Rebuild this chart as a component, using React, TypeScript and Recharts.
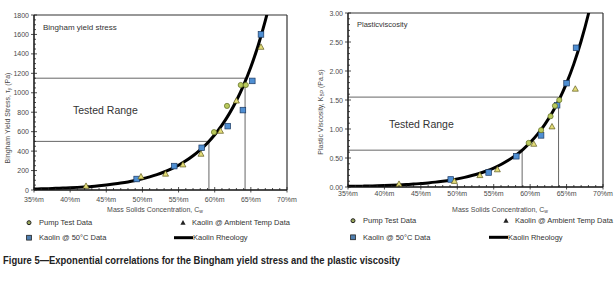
import { ComposedChart, Line, Scatter, XAxis, YAxis, ReferenceLine } from 'recharts'

// fitted curve, read every 1 %m
const curveX = [35, 36, 37, 38, 39, 40, 41, 42, 43, 44, 45, 46, 47, 48, 49, 50, 51, 52, 53, 54, 55, 56, 57, 58, 59, 60, 61, 62, 63, 64, 65, 66, 67, 68, 69]
const yieldCurve = [10, 12, 14, 17, 20, 23, 27, 32, 37, 44, 52, 61, 71, 83, 98, 115, 135, 158, 185, 218, 255, 300, 352, 413, 484, 568, 667, 783, 918, 1078, 1265, 1484, 1742, 2044, 2399]
const viscCurve = [0.011, 0.013, 0.015, 0.018, 0.022, 0.026, 0.030, 0.036, 0.043, 0.050, 0.060, 0.071, 0.084, 0.100, 0.118, 0.140, 0.166, 0.197, 0.233, 0.276, 0.327, 0.388, 0.460, 0.545, 0.646, 0.766, 0.907, 1.076, 1.275, 1.511, 1.791, 2.123, 2.517, 2.983, 3.535]

// yield stress (Pa)
const yieldPump = [[59.9, 595], [61.7, 865], [63.6, 1080], [64.3, 1080]]
const yieldAmbient = [[42.2, 40], [49.8, 137], [53.2, 165], [55.6, 260], [58.1, 370], [60.8, 606], [63.0, 917], [66.4, 1470]]
const yield50C = [[49.2, 113], [54.4, 246], [58.2, 434], [61.8, 657], [63.9, 822], [65.2, 1122], [66.4, 1600]]

// plastic viscosity (Pa.s)
const viscPump = [[59.8, 0.76], [61.5, 0.98], [62.8, 1.22], [63.4, 1.40], [64.0, 1.50]]
const viscAmbient = [[42.0, 0.05], [49.6, 0.10], [53.1, 0.20], [55.5, 0.30], [60.5, 0.74], [63.0, 1.04], [66.2, 1.69]]
const visc50C = [[49.1, 0.13], [54.3, 0.25], [58.1, 0.53], [61.5, 0.89], [63.7, 1.41], [65.0, 1.79], [66.3, 2.40]]

// tested range box corners [concentration, value]
const yieldRange = [[59.2, 500], [64.2, 1150]]
const viscRange = [[58.9, 0.635], [63.9, 1.55]]

const xMajor = [35, 40, 45, 50, 55, 60, 65, 70]

const toPts = (arr: number[][]) => arr.map(([x, y]) => ({ x, y }))
const toCurve = (vals: number[]) => curveX.map((x, i) => ({ x, y: vals[i] }))

const FONT = '"Liberation Sans", Arial, sans-serif'
const GRAY = '#4a4a4a'

const Circle = (p: any) => (
  <circle cx={p.cx} cy={p.cy} r={2.6} fill="#b9c95c" stroke="#5f6b24" strokeWidth={0.7} />
)
const Tri = (p: any) => (
  <path
    d={`M${p.cx},${p.cy - 3.2} L${p.cx + 3},${p.cy + 2.2} L${p.cx - 3},${p.cy + 2.2} Z`}
    fill="#e3dc78"
    stroke="#5f5a1c"
    strokeWidth={0.7}
  />
)
const Sq = (p: any) => (
  <rect x={p.cx - 2.8} y={p.cy - 2.8} width={5.6} height={5.6} fill="#4f8fd3" stroke="#1d3a62" strokeWidth={0.7} />
)

function range(a: number, b: number, step: number) {
  const out: number[] = []
  for (let v = a; v <= b + step / 2; v += step) out.push(Math.round(v * 1000) / 1000)
  return out
}

interface PanelProps {
  pos: { left: number; top: number; width: number; height: number }
  margin: { top: number; right: number; left: number; bottom: number }
  yWidth: number
  yMax: number
  yMajorStep: number
  yMinorStep: number
  yFmt: (v: number) => string
  xLabelDy: number
  curve: { x: number; y: number }[]
  pump: number[][]
  ambient: number[][]
  c50: number[][]
  box: number[][]
}

function Panel(p: PanelProps) {
  const yTicks = range(0, p.yMax, p.yMinorStep)
  const xTicks = range(35, 70, 1)
  const isMajorY = (v: number) => Math.abs(v / p.yMajorStep - Math.round(v / p.yMajorStep)) < 1e-6
  const [lo, hi] = p.box

  const YTick = ({ x, y, payload }: any) => {
    const major = isMajorY(payload.value)
    return (
      <g>
        <line x1={x - (major ? 3 : 0)} x2={x + (major ? 3 : 2)} y1={y} y2={y} stroke="#222" strokeWidth={0.8} />
        {major && (
          <text x={x - 5} y={y} dy={2.5} textAnchor="end" fontSize={7} fill={GRAY} fontFamily={FONT}>
            {p.yFmt(payload.value)}
          </text>
        )}
      </g>
    )
  }
  const XTick = ({ x, y, payload }: any) => {
    const major = xMajor.includes(payload.value)
    return (
      <g>
        <line x1={x} x2={x} y1={y + (major ? 2.5 : 0)} y2={y - (major ? 3 : 2)} stroke="#222" strokeWidth={0.8} />
        {major && (
          <text x={x} y={y} dy={p.xLabelDy} textAnchor="middle" fontSize={7} fill={GRAY} fontFamily={FONT}>
            {`${payload.value}%m`}
          </text>
        )}
      </g>
    )
  }

  return (
    <div style={{ position: 'absolute', ...p.pos }}>
      <ComposedChart width={p.pos.width} height={p.pos.height} margin={p.margin}>
        <XAxis
          type="number"
          dataKey="x"
          domain={[35, 70]}
          ticks={xTicks}
          interval={0}
          tickSize={0}
          tickMargin={0}
          tickLine={false}
          tick={<XTick />}
          height={15}
          axisLine={{ stroke: '#111', strokeWidth: 1.5 }}
          allowDataOverflow
        />
        <YAxis
          type="number"
          dataKey="y"
          domain={[0, p.yMax]}
          ticks={yTicks}
          interval={0}
          tickSize={0}
          tickMargin={0}
          tickLine={false}
          tick={<YTick />}
          width={p.yWidth}
          axisLine={{ stroke: '#111', strokeWidth: 1.5 }}
          allowDataOverflow
        />
        <ReferenceLine x={70} stroke="#333" strokeWidth={1.2} />
        <ReferenceLine y={p.yMax} stroke="#333" strokeWidth={1.2} />
        <ReferenceLine segment={[{ x: 35, y: lo[1] }, { x: lo[0], y: lo[1] }]} stroke="#666" strokeWidth={1} />
        <ReferenceLine segment={[{ x: lo[0], y: 0 }, { x: lo[0], y: lo[1] }]} stroke="#666" strokeWidth={1} />
        <ReferenceLine segment={[{ x: 35, y: hi[1] }, { x: hi[0], y: hi[1] }]} stroke="#666" strokeWidth={1} />
        <ReferenceLine segment={[{ x: hi[0], y: 0 }, { x: hi[0], y: hi[1] }]} stroke="#666" strokeWidth={1} />
        <Line data={p.curve} dataKey="y" type="monotone" stroke="#000" strokeWidth={3} dot={false} isAnimationActive={false} />
        <Scatter data={toPts(p.c50)} shape={Sq} isAnimationActive={false} />
        <Scatter data={toPts(p.ambient)} shape={Tri} isAnimationActive={false} />
        <Scatter data={toPts(p.pump)} shape={Circle} isAnimationActive={false} />
      </ComposedChart>
    </div>
  )
}

function Legend({ x1, x2, y1, y2, lineFrom }: { x1: number; x2: number; y1: number; y2: number; lineFrom: number }) {
  const t = { fontSize: 7.5, fill: '#333', fontFamily: FONT }
  return (
    <g>
      <circle cx={x1} cy={y1} r={2} fill="#9aa85a" stroke="#222" strokeWidth={1} />
      <text x={x1 + 10} y={y1 + 2.6} {...t}>Pump Test Data</text>
      <path d={`M${x2},${y1 - 2.6} L${x2 + 2.6},${y1 + 2} L${x2 - 2.6},${y1 + 2} Z`} fill="#222" />
      <text x={x2 + 9} y={y1 + 2.6} {...t}>Kaolin @ Ambient Temp Data</text>
      <rect x={x1 - 2.4} y={y2 - 2.4} width={4.8} height={4.8} fill="#4f7fb0" stroke="#222" strokeWidth={0.8} />
      <text x={x1 + 10} y={y2 + 2.6} {...t}>Kaolin @ 50°C Data</text>
      <line x1={lineFrom} x2={lineFrom + 19} y1={y2} y2={y2} stroke="#000" strokeWidth={3} />
      <text x={lineFrom + 19} y={y2 + 2.6} {...t}>Kaolin Rheology</text>
    </g>
  )
}

export default function App() {
  const small = { fontSize: 7, fill: GRAY, fontFamily: FONT }
  return (
    <div style={{ position: 'absolute', left: 0, top: 0, width: 615, height: 282, background: '#fff', overflow: 'hidden' }}>
      <Panel
        pos={{ left: 0, top: 0, width: 300, height: 205 }}
        margin={{ top: 15, right: 13, left: 0, bottom: 0 }}
        yWidth={34}
        yMax={1800}
        yMajorStep={200}
        yMinorStep={50}
        yFmt={(v) => String(v)}
        xLabelDy={11.5}
        curve={toCurve(yieldCurve)}
        pump={yieldPump}
        ambient={yieldAmbient}
        c50={yield50C}
        box={yieldRange}
      />
      <Panel
        pos={{ left: 300, top: 0, width: 315, height: 202 }}
        margin={{ top: 13, right: 12, left: 0, bottom: 0 }}
        yWidth={48}
        yMax={3}
        yMajorStep={0.5}
        yMinorStep={0.1}
        yFmt={(v) => v.toFixed(2)}
        xLabelDy={8.5}
        curve={toCurve(viscCurve)}
        pump={viscPump}
        ambient={viscAmbient}
        c50={visc50C}
        box={viscRange}
      />
      <svg width={615} height={282} style={{ position: 'absolute', left: 0, top: 0, pointerEvents: 'none' }}>
        <text x={43} y={29.5} fontSize={8} fill="#333" fontFamily={FONT}>Bingham yield stress</text>
        <text x={357} y={27} fontSize={7.5} fill="#333" fontFamily={FONT}>Plasticviscosity</text>
        <text x={73} y={113.5} fontSize={10.5} fill="#333" fontFamily={FONT}>Tested Range</text>
        <text x={389} y={127.5} fontSize={10.5} fill="#333" fontFamily={FONT}>Tested Range</text>

        <text x={155} y={211.5} textAnchor="middle" {...small}>
          Mass Solids Concentration, C<tspan fontSize={5} dy={1.5}>w</tspan>
        </text>
        <text x={500} y={211.5} textAnchor="middle" {...small}>
          Mass Solids Concentration, C<tspan fontSize={5} dy={1.5}>w</tspan>
        </text>
        <text transform="translate(9.5,118) rotate(-90)" textAnchor="middle" {...small}>
          Bingham Yield Stress, τ<tspan fontSize={5} dy={1.5}>y</tspan><tspan dy={-1.5}> (Pa)</tspan>
        </text>
        <text transform="translate(322.5,112) rotate(-90)" textAnchor="middle" {...small}>
          Plastic Viscosity, K<tspan fontSize={5} dy={1.5}>BP</tspan><tspan dy={-1.5}> (Pa.s)</tspan>
        </text>

        <Legend x1={29} x2={183} y1={222.7} y2={237.7} lineFrom={174} />
        <Legend x1={353} x2={506} y1={220.7} y2={237.3} lineFrom={489} />

        <text
          x={3}
          y={263.5}
          fontSize={10.5}
          fontWeight="bold"
          fill="#222"
          fontFamily='"Liberation Sans Narrow", "Arial Narrow", "Liberation Sans", sans-serif'
          textLength={397}
          lengthAdjust="spacingAndGlyphs"
        >
          Figure 5—Exponential correlations for the Bingham yield stress and the plastic viscosity
        </text>
      </svg>
    </div>
  )
}
